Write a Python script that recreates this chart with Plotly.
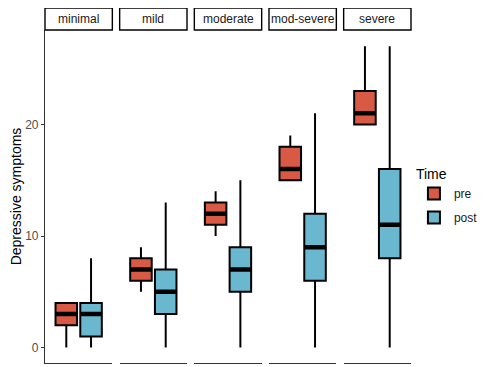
import plotly.graph_objects as go
from plotly.subplots import make_subplots

severities = ["minimal", "mild", "moderate", "mod-severe", "severe"]
times = ["pre", "post"]

pre_lower = [0, 5, 10, 15, 20]
pre_q1 = [2, 6, 11, 15, 20]
pre_median = [3, 7, 12, 16, 21]
pre_q3 = [4, 8, 13, 18, 23]
pre_upper = [4, 9, 14, 19, 27]

post_lower = [0, 0, 0, 0, 0]
post_q1 = [1, 3, 5, 6, 8]
post_median = [3, 5, 7, 9, 11]
post_q3 = [4, 7, 9, 12, 16]
post_upper = [8, 13, 15, 21, 27]

y_ticks = [0, 10, 20]

colors = {"pre": "#D85A44", "post": "#6AB8D0"}
stats = {
    "pre": (pre_lower, pre_q1, pre_median, pre_q3, pre_upper),
    "post": (post_lower, post_q1, post_median, post_q3, post_upper),
}

FONT = "Liberation Sans, Arial, sans-serif"

fig = make_subplots(rows=1, cols=5, shared_yaxes=True, horizontal_spacing=0.02)

for i, sev in enumerate(severities):
    col = i + 1
    for t in times:
        lo, q1, med, q3, hi = stats[t]
        fig.add_trace(
            go.Box(
                x=[t], lowerfence=[lo[i]], q1=[q1[i]], median=[med[i]], q3=[q3[i]],
                upperfence=[hi[i]], name=t, legendgroup=t, showlegend=(i == 0),
                fillcolor=colors[t], line=dict(color="black", width=2),
                width=0.87, whiskerwidth=0, hoverinfo="skip",
            ),
            row=1, col=col,
        )
        # thicker median bar
        fig.add_trace(
            go.Box(
                x=[t], lowerfence=[med[i]], q1=[med[i]], median=[med[i]], q3=[med[i]],
                upperfence=[med[i]], name=t, legendgroup=t, showlegend=False,
                fillcolor="rgba(0,0,0,0)", line=dict(color="black", width=4.5),
                width=0.87, whiskerwidth=0, hoverinfo="skip",
            ),
            row=1, col=col,
        )

    xref = "x domain" if col == 1 else f"x{col} domain"
    fig.add_shape(type="rect", xref=xref, yref="paper", x0=0, x1=1, y0=1.0, y1=1.066,
                  line=dict(color="black", width=1.4), fillcolor="white")
    fig.add_annotation(text=sev, xref=xref, yref="paper", x=0.5, y=1.033,
                       showarrow=False, font=dict(family=FONT, size=12, color="#1A1A1A"),
                       xanchor="center", yanchor="middle")

    fig.update_xaxes(row=1, col=col, type="category", categoryorder="array",
                     categoryarray=times, range=[-0.86, 1.86], showticklabels=False,
                     ticks="", showgrid=False, zeroline=False, showline=True,
                     linecolor="#333333", linewidth=1.2, automargin=False)
    fig.update_yaxes(row=1, col=col, range=[-1.38, 28.46], showgrid=False, zeroline=False,
                     tickvals=y_ticks, showticklabels=(col == 1),
                     ticks="outside" if col == 1 else "", ticklen=3, tickcolor="#333333",
                     showline=(col == 1), linecolor="#333333", linewidth=1.2,
                     tickfont=dict(family=FONT, size=12, color="#4D4D4D"), automargin=False)

fig.update_yaxes(row=1, col=1, title=dict(text="Depressive symptoms", standoff=6,
                 font=dict(family=FONT, size=14, color="black")))

# page body adds an 8px offset, so the figure is 8px smaller than the window
fig.update_layout(
    width=480, height=359,
    margin=dict(l=37, r=77, t=22, b=4, autoexpand=False),
    paper_bgcolor="white", plot_bgcolor="white",
    boxmode="overlay",
    font=dict(family=FONT),
    legend=dict(title=dict(text="Time", font=dict(family=FONT, size=14, color="black")),
                x=1.008, xanchor="left", y=0.607, yanchor="top",
                font=dict(family=FONT, size=12, color="#1A1A1A"),
                tracegroupgap=5, bgcolor="rgba(0,0,0,0)"),
)

fig.write_html("out.html")
